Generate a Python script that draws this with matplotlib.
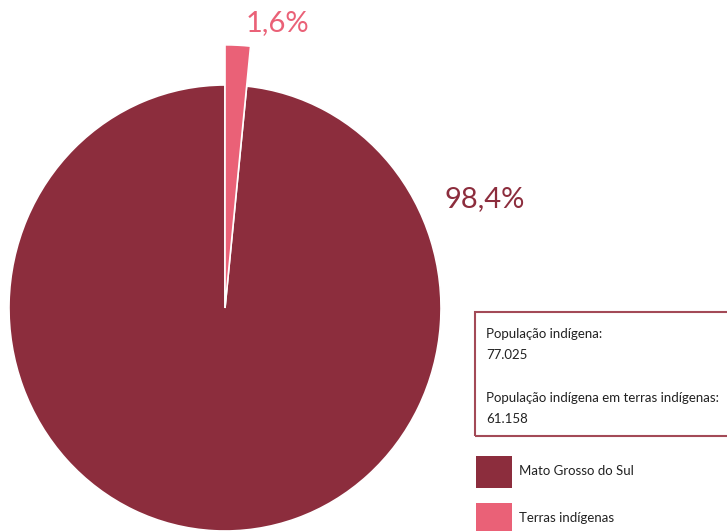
import matplotlib
matplotlib.use('Agg')
import matplotlib.pyplot as plt
from matplotlib.patches import Rectangle

# dados
categorias = ['Mato Grosso do Sul', 'Terras indígenas']
percentuais = [98.4, 1.6]
cores = ['#8C2D3D', '#EA6177']
info_linhas = ['População indígena:', '77.025', '',
               'População indígena em terras indígenas:', '61.158']

plt.rcParams['font.family'] = ['Lato', 'DejaVu Sans']

W, H = 727, 531
fig = plt.figure(figsize=(W / 100, H / 100), dpi=100)
ax = fig.add_axes([0, 0, 1, 1])

wedges, _ = ax.pie(percentuais, colors=cores, startangle=90, counterclock=True,
                   radius=1.0, wedgeprops=dict(edgecolor='white', linewidth=1.2))
# fatia menor desenhada mais longa
wedges[1].set_radius(1.18)

ax.set_aspect('auto')
cx, cy, rx, ry = 225, 308, 216, 223
ax.set_xlim(-cx / rx, (W - cx) / rx)
ax.set_ylim(-(H - cy) / ry, cy / ry)
ax.axis('off')


def fx(px):
    return px / W


def fy(py):
    return 1 - py / H


def rotulo(v):
    return f'{v:.1f}%'.replace('.', ',')


fig.text(fx(444), fy(199), rotulo(percentuais[0]), color=cores[0], fontsize=21,
         va='center', ha='left')
fig.text(fx(246), fy(23), rotulo(percentuais[1]), color=cores[1], fontsize=21,
         va='center', ha='left')

# caixa de informações
fig.patches.append(Rectangle((fx(475), fy(436)), fx(W + 5) - fx(475), fy(312) - fy(436),
                             transform=fig.transFigure, fill=False,
                             edgecolor='#A34A57', linewidth=1.5))
ys = [334, 355, 376, 398, 419]
for y, t in zip(ys, info_linhas):
    if t:
        fig.text(fx(486), fy(y), t, fontsize=9.5, color='#222222',
                 va='center', ha='left')

# legenda
for i, (cat, cor) in enumerate(zip(categorias, cores)):
    top = 456 + i * 47
    fig.patches.append(Rectangle((fx(476), fy(top + 32)), fx(36), fy(0) - fy(32),
                                 transform=fig.transFigure, facecolor=cor,
                                 edgecolor='none'))
    fig.text(fx(519), fy(top + 15), cat, fontsize=9.5, color='#222222',
             va='center', ha='left')

fig.savefig('out.png', dpi=100)
